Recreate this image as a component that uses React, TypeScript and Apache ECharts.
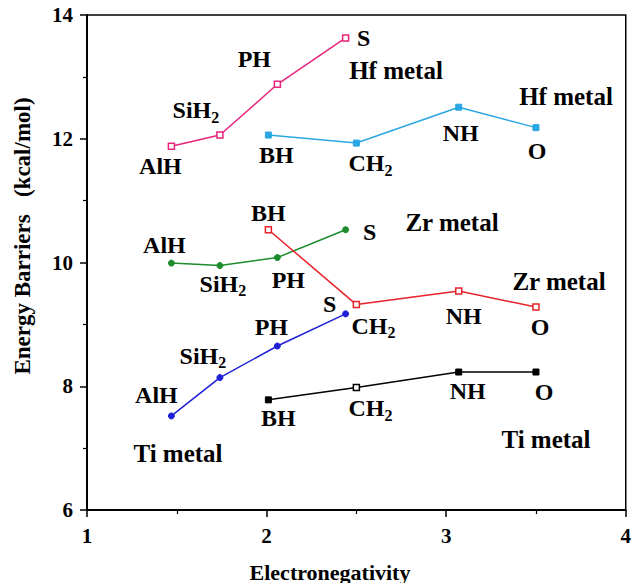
import React, { useEffect, useRef } from "react";
import * as echarts from "echarts";

// Electronegativity (Allred-Rochow) of the ligands
const groupA = ["AlH", "SiH2", "PH", "S"];
const groupAX = [1.47, 1.74, 2.06, 2.44];
const groupB = ["BH", "CH2", "NH", "O"];
const groupBX = [2.01, 2.5, 3.07, 3.5];

// Energy barriers (kcal/mol)
const hfA = [11.88, 12.06, 12.88, 13.63];
const hfB = [12.06, 11.93, 12.51, 12.18];
const zrA = [9.99, 9.95, 10.08, 10.53];
const zrB = [10.53, 9.32, 9.54, 9.28];
const tiA = [7.52, 8.14, 8.65, 9.17];
const tiB = [7.78, 7.98, 8.23, 8.23];

const xTicks = [1, 2, 3, 4];
const yTicks = [6, 8, 10, 12, 14];

const FONT = '"Liberation Serif", "Times New Roman", serif';

// label offsets (px) relative to each point
const offsets: Record<string, number[][]> = {
  hfA: [[-11, 20], [-24, -25], [-23, -25], [18, 0]],
  hfB: [[8, 20], [14, 20], [2, 26], [1, 23]],
  zrA: [[-7, -18], [3, 18], [11, 22], [24, 2]],
  zrB: [[0, -17], [17, 21], [5, 25], [4, 20]],
  tiA: [[-15, -21], [-17, -22], [-6, -19], [-16, -10]],
  tiB: [[10, 18], [14, 21], [9, 19], [8, 20]],
};

function fmtName(n: string) {
  const m = n.match(/^(.*?)(\d+)$/);
  if (m) return `{m|${m[1]}}{s|${m[2]}}`;
  return `{m|${n}}`;
}

const rich = {
  m: { fontSize: 24, fontWeight: "bold", fontFamily: FONT, color: "#000", lineHeight: 30 },
  s: { fontSize: 16, fontWeight: "bold", fontFamily: FONT, color: "#000", lineHeight: 12, verticalAlign: "bottom" },
};

function makeSeries(
  key: string,
  names: string[],
  xs: number[],
  ys: number[],
  color: string,
  symbol: string,
  open: boolean,
  size: number,
  openIdx: number[] = []
) {
  return {
    type: "line",
    name: key,
    symbol,
    symbolSize: size,
    lineStyle: { color, width: 1.5 },
    itemStyle: open
      ? { color: "#fff", borderColor: color, borderWidth: 1.5 }
      : { color, borderColor: color, borderWidth: 1 },
    data: xs.map((x, i) => ({
      value: [x, ys[i]],
      itemStyle: openIdx.includes(i) ? { color: "#fff", borderColor: color, borderWidth: 1.5 } : undefined,
      label: { offset: offsets[key][i] },
    })),
    label: {
      show: true,
      position: "inside",
      align: "center",
      verticalAlign: "middle",
      formatter: (p: any) => fmtName(names[p.dataIndex]),
      rich,
    },
    z: 3,
  };
}

const metalText = (text: string, x: number, y: number) => ({
  type: "text",
  x,
  y,
  style: {
    text,
    fontSize: 25,
    fontWeight: "bold",
    fontFamily: FONT,
    fill: "#000",
    align: "center",
    verticalAlign: "middle",
  },
});

export default function App() {
  const ref = useRef<HTMLDivElement>(null);
  useEffect(() => {
    document.body.style.margin = "0";
    const chart = echarts.init(ref.current!, null, { renderer: "svg" });
    const axisCommon = {
      type: "value",
      axisLine: { show: true, lineStyle: { color: "#000", width: 2 } },
      axisTick: { show: true, inside: false, length: 7, lineStyle: { color: "#000", width: 1.5 } },
      minorTick: { show: true, splitNumber: 2, length: 4, lineStyle: { color: "#000", width: 1.2 } },
      splitLine: { show: false },
      minorSplitLine: { show: false },
      axisLabel: { fontSize: 21, fontWeight: "bold", fontFamily: FONT, color: "#000" },
    };
    chart.setOption({
      animation: false,
      backgroundColor: "#fff",
      grid: { left: 87, right: 2, top: 15, bottom: 73, show: true, borderColor: "#000", borderWidth: 1.5, backgroundColor: "transparent" },
      xAxis: {
        ...axisCommon,
        min: xTicks[0],
        max: xTicks[xTicks.length - 1],
        interval: 1,
        axisLabel: { ...axisCommon.axisLabel, margin: 15 },
      },
      yAxis: {
        ...axisCommon,
        min: yTicks[0],
        max: yTicks[yTicks.length - 1],
        interval: 2,
        axisLabel: { ...axisCommon.axisLabel, margin: 14 },
      },
      series: [
        makeSeries("hfA", groupA, groupAX, hfA, "#e8247c", "rect", true, 6),
        makeSeries("hfB", groupB, groupBX, hfB, "#2aa7e2", "rect", false, 6),
        makeSeries("zrA", groupA, groupAX, zrA, "#1c8c2c", "circle", false, 6),
        makeSeries("zrB", groupB, groupBX, zrB, "#e8212b", "rect", true, 6),
        makeSeries("tiA", groupA, groupAX, tiA, "#1f1fd6", "circle", false, 6),
        makeSeries("tiB", groupB, groupBX, tiB, "#000000", "rect", false, 6, [1]),
      ],
      graphic: [
        metalText("Hf metal", 396, 70),
        metalText("Hf metal", 566, 96),
        metalText("Zr metal", 452, 222),
        metalText("Zr metal", 559, 281),
        metalText("Ti metal", 178, 453),
        metalText("Ti metal", 546, 439),
        {
          type: "text",
          x: 22,
          y: 236,
          rotation: Math.PI / 2,
          style: {
            text: "Energy Barriers   (kcal/mol)",
            fontSize: 23,
            fontWeight: "bold",
            fontFamily: FONT,
            fill: "#000",
            align: "center",
            verticalAlign: "middle",
          },
        },
        {
          type: "text",
          x: 330,
          y: 572,
          style: {
            text: "Electronegativity",
            fontSize: 22,
            fontWeight: "bold",
            fontFamily: FONT,
            fill: "#000",
            align: "center",
            verticalAlign: "middle",
          },
        },
      ],
    });
    return () => chart.dispose();
  }, []);
  return <div ref={ref} style={{ width: 634, height: 583 }} />;
}
